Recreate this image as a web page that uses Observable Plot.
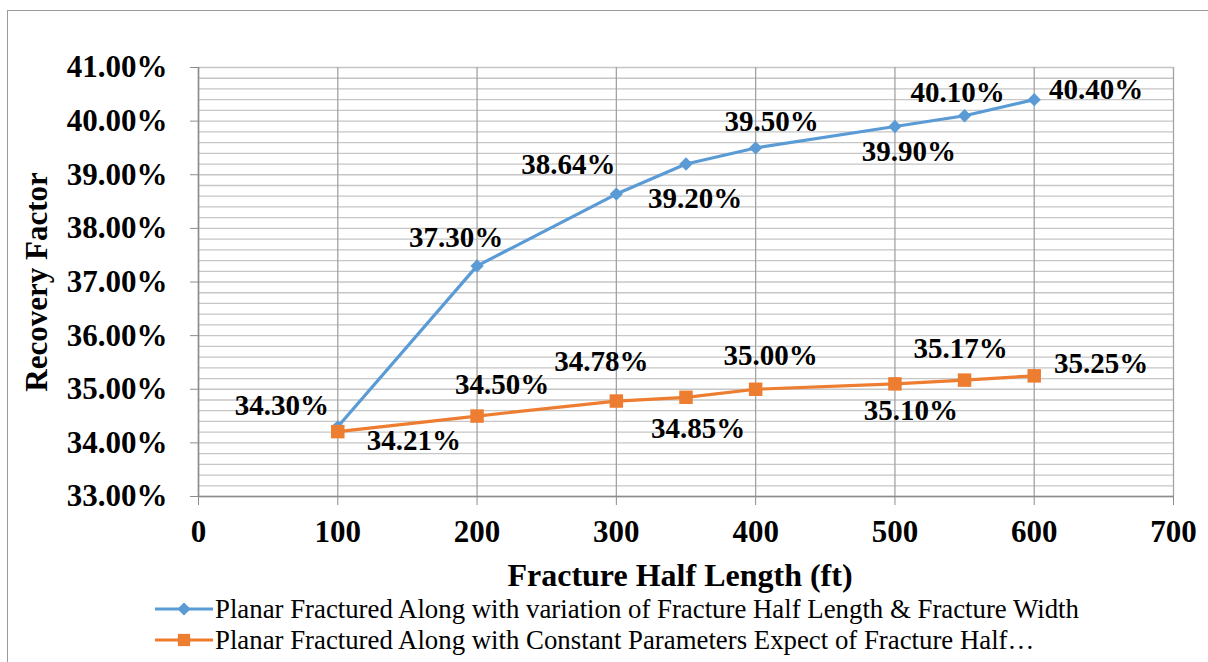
<!DOCTYPE html>
<html>
<head>
<meta charset="utf-8">
<script src="https://cdn.jsdelivr.net/npm/d3@7"></script>
<script src="https://cdn.jsdelivr.net/npm/@observablehq/plot@0.6"></script>
<style>
  html, body { margin: 0; padding: 0; background: #fff; }
  body { width: 1208px; height: 662px; overflow: hidden; position: relative; }
  #frame { position: absolute; left: 7px; top: 10px; width: 1300px; height: 700px;
           border-left: 1.5px solid #9a9a9a; border-top: 1.5px solid #9a9a9a; box-sizing: border-box; }
  #chart { position: absolute; left: 0; top: 0; }
  #legend { position: absolute; left: 0; top: 594px; width: 1208px;
            font-family: "Liberation Serif", "Times New Roman", serif; font-size: 26.8px; color: #000; }
  .row { position: absolute; left: 155px; height: 30px; display: flex; align-items: center; white-space: nowrap; }
  .row svg { display: block; margin-right: 2px; }
</style>
</head>
<body>
<div id="frame"></div>
<div id="chart"></div>
<div id="legend"></div>
<script>
// Fracture half length (ft)
const halfLength = [100, 200, 300, 350, 400, 500, 550, 600];
// Recovery factor (%) with fracture half length and width varied together
const rfVaried = [34.30, 37.30, 38.64, 39.20, 39.50, 39.90, 40.10, 40.40];
// Recovery factor (%) with all parameters constant except fracture half length
const rfConstant = [34.21, 34.50, 34.78, 34.85, 35.00, 35.10, 35.17, 35.25];

const seriesNames = [
  "Planar Fractured Along with variation of Fracture Half Length & Fracture Width",
  "Planar Fractured Along with Constant Parameters Expect of Fracture Half…"
];
const xTicks = [0, 100, 200, 300, 400, 500, 600, 700];
const yTicks = [33, 34, 35, 36, 37, 38, 39, 40, 41];
const xTitle = "Fracture Half Length (ft)";
const yTitle = "Recovery Factor";

const colors = ["#5B9BD5", "#ED7D31"];
const serif = "'Liberation Serif', 'Times New Roman', serif";

// Label placement (pixel offsets from each point), kept apart from the values
const offsetsVaried = [[-56, -21], [-21, -28], [-48, -29], [9, 35], [16, -26], [14, 25], [-7, -23], [62, -10]];
const offsetsConstant = [[76, 9], [25, -31], [-15, -39], [12, 31], [15, -34], [16, 27], [-4, -31], [67, -12]];

const varied = halfLength.map((x, i) => ({x, y: rfVaried[i], i}));
const constant = halfLength.map((x, i) => ({x, y: rfConstant[i], i}));
const minorY = d3.range(0, 41).map(k => 33 + k * 0.2);
const pct = v => v.toFixed(2) + "%";

function labels(data, offsets) {
  return data.map((d, i) => Plot.text([d], {
    x: "x", y: "y", text: d => pct(d.y),
    dx: offsets[i][0], dy: offsets[i][1],
    fontSize: 29, fontWeight: "bold", fontFamily: serif, fill: "#000"
  }));
}

const chart = Plot.plot({
  width: 1208,
  height: 594,
  marginLeft: 198,
  marginRight: 35,
  marginTop: 67,
  marginBottom: 98,
  style: { fontFamily: serif, fontSize: "30px", fontWeight: "bold", color: "#000", background: "transparent", overflow: "visible" },
  x: { domain: [0, 700] },
  y: { domain: [33, 41] },
  marks: [
    Plot.ruleY(minorY, { stroke: "#c6c6c6", strokeWidth: 1.3 }),
    Plot.ruleX(xTicks, { stroke: "#a3a3a3", strokeWidth: 1.3 }),
    Plot.ruleX([0], { stroke: "#8c8c8c", strokeWidth: 1.5 }),
    Plot.ruleY([33], { stroke: "#8c8c8c", strokeWidth: 1.5 }),
    Plot.axisY({ ticks: yTicks, tickFormat: pct, tickSize: 8, tickPadding: 23, stroke: "#8c8c8c",
                 fontSize: 31, fontWeight: "bold", fontFamily: serif, label: null }),
    Plot.axisX({ ticks: xTicks, tickFormat: d3.format("d"), tickSize: 9, tickPadding: 14, stroke: "#8c8c8c",
                 fontSize: 31, fontWeight: "bold", fontFamily: serif, label: null }),
    Plot.text([yTitle], { frameAnchor: "left", rotate: -90, dx: -161, fontSize: 31, fontWeight: "bold",
                          fontFamily: serif, fill: "#000", textAnchor: "middle", lineAnchor: "middle" }),
    Plot.text([xTitle], { frameAnchor: "bottom", dx: -6, dy: 79, fontSize: 32, fontWeight: "bold",
                          fontFamily: serif, fill: "#000", textAnchor: "middle", lineAnchor: "middle" }),
    Plot.line(varied, { x: "x", y: "y", stroke: colors[0], strokeWidth: 3.2 }),
    Plot.line(constant, { x: "x", y: "y", stroke: colors[1], strokeWidth: 3.2 }),
    Plot.dot(varied, { x: "x", y: "y", symbol: "diamond2", r: 6, fill: colors[0], stroke: "none" }),
    Plot.dot(constant, { x: "x", y: "y", symbol: "square", r: 7.6, fill: colors[1], stroke: "none" }),
    ...labels(varied, offsetsVaried),
    ...labels(constant, offsetsConstant)
  ]
});
document.getElementById("chart").appendChild(chart);

// Legend rows: line swatch with marker, then series name
const legend = d3.select("#legend");
seriesNames.forEach((name, k) => {
  const row = legend.append("div").attr("class", "row").style("top", (k * 31) + "px");
  const sw = row.append("svg").attr("width", 58).attr("height", 20);
  sw.append("line").attr("x1", 0).attr("x2", 58).attr("y1", 10).attr("y2", 10)
    .attr("stroke", colors[k]).attr("stroke-width", 3);
  const sym = k === 0 ? d3.symbolDiamond2 : d3.symbolSquare;
  const size = k === 0 ? 110 : 150;
  sw.append("path").attr("d", d3.symbol(sym, size)()).attr("transform", "translate(29,10)").attr("fill", colors[k]);
  row.append("span").text(name);
});
</script>
</body>
</html>
